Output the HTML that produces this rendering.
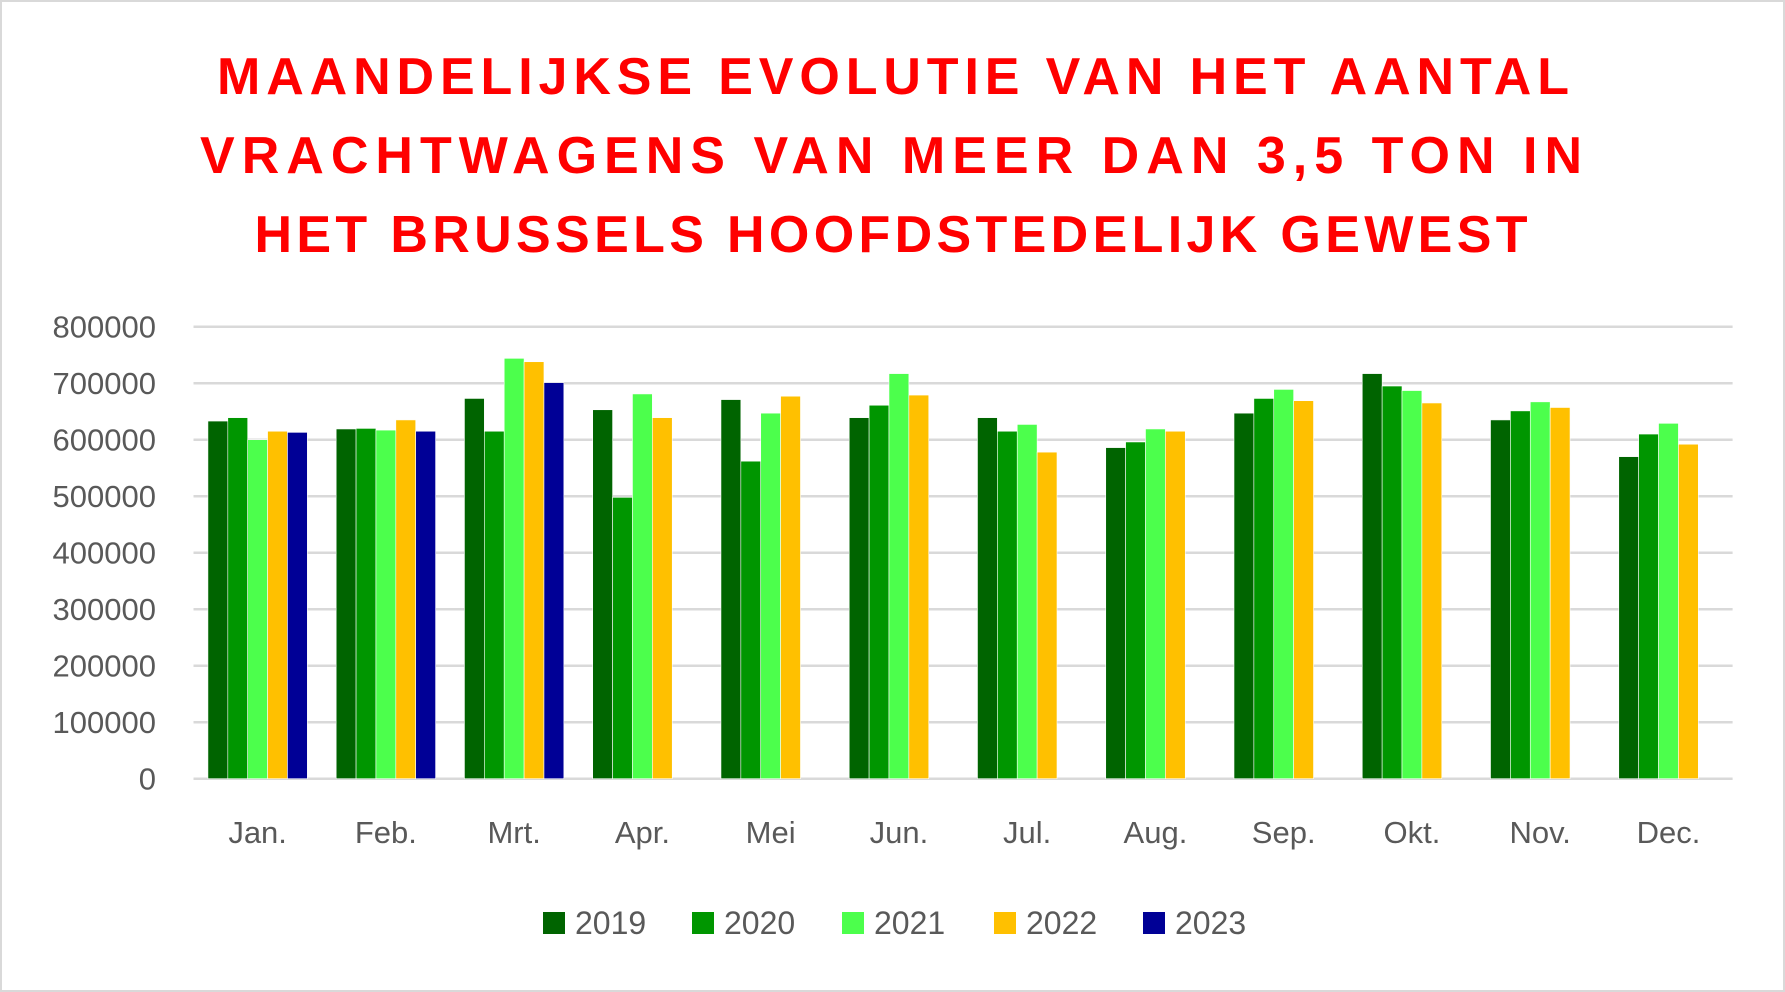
<!DOCTYPE html>
<html><head><meta charset="utf-8"><style>
html,body{margin:0;padding:0;background:#fff}
svg{display:block}
text{font-family:"Liberation Sans",sans-serif}
</style></head><body>
<svg id="chart" width="1785" height="992" viewBox="0 0 1785 992" xmlns="http://www.w3.org/2000/svg">
<rect x="1" y="1" width="1783" height="990" fill="#fff" stroke="#d9d9d9" stroke-width="2"/>
<g fill="#ff0000" font-weight="bold" font-size="52" text-anchor="middle">
<text x="893" y="94" textLength="1352" lengthAdjust="spacing">MAANDELIJKSE EVOLUTIE VAN HET AANTAL</text>
<text x="891" y="173" textLength="1382" lengthAdjust="spacing">VRACHTWAGENS VAN MEER DAN 3,5 TON IN</text>
<text x="891" y="252" textLength="1273" lengthAdjust="spacing">HET BRUSSELS HOOFDSTEDELIJK GEWEST</text>
</g>
<g id="grid"></g><g id="bars"></g><g id="yaxis"></g><g id="xaxis"></g><g id="legend"></g>
</svg>
<script>
const categories=["Jan.","Feb.","Mrt.","Apr.","Mei","Jun.","Jul.","Aug.","Sep.","Okt.","Nov.","Dec."];
const seriesNames=["2019","2020","2021","2022","2023"];
const seriesColors=["#006400","#009600","#4cff4c","#ffc000","#000096"];
const s2019=[633000,619000,673000,653000,671000,639000,639000,586000,647000,717000,635000,570000];
const s2020=[639000,620000,615000,498000,562000,661000,615000,596000,673000,695000,651000,610000];
const s2021=[600000,617000,744000,681000,647000,717000,627000,619000,689000,687000,667000,629000];
const s2022=[615000,635000,738000,639000,677000,679000,578000,615000,669000,665000,657000,592000];
const s2023=[613000,615000,701000,null,null,null,null,null,null,null,null,null];
const yTicks=[0,100000,200000,300000,400000,500000,600000,700000,800000];
const NS="http://www.w3.org/2000/svg";
const L=193.5,R=1732.6,T=326.7,B=778.7,YMAX=800000;
const y=v=>B-(v/YMAX)*(B-T);
const catW=(R-L)/categories.length;
const barW=catW*0.155;
const x=(i,s)=>L+i*catW+(catW-5*barW)/2+s*barW;
function mk(tag,attrs,parent){const e=document.createElementNS(NS,tag);for(const k in attrs)e.setAttribute(k,attrs[k]);document.getElementById(parent).appendChild(e);return e;}
yTicks.forEach(t=>{
 const g=mk("line",{x1:L,x2:R,y1:y(t),y2:y(t),stroke:"#d9d9d9","stroke-width":2.5},"grid");
 
 
 const lb=mk("text",{x:156,y:y(t)+11,"text-anchor":"end","font-size":31,fill:"#595959"},"yaxis");
 lb.textContent=t;
 
 
});
const all=[s2019,s2020,s2021,s2022,s2023];
all.forEach((ser,s)=>{ser.forEach((v,i)=>{
 if(v==null)return;
 const r=mk("rect",{x:x(i,s),y:y(v),width:barW,height:B-y(v),fill:seriesColors[s],stroke:"#fff","stroke-width":0.6},"bars");
 
 
});});
categories.forEach((c,i)=>{
 const t=mk("text",{x:L+(i+0.5)*catW,y:843,"text-anchor":"middle","font-size":31,fill:"#595959"},"xaxis");
 t.textContent=c;
 
 
});
const legX=[543,692,842,994,1143];
seriesNames.forEach((n,s)=>{
 const r=mk("rect",{x:legX[s],y:912,width:22,height:22,fill:seriesColors[s]},"legend");
 
 
 const t=mk("text",{x:legX[s]+32,y:934,"font-size":32,fill:"#595959"},"legend");
 t.textContent=n;
 
 
});
</script>
</body></html>
